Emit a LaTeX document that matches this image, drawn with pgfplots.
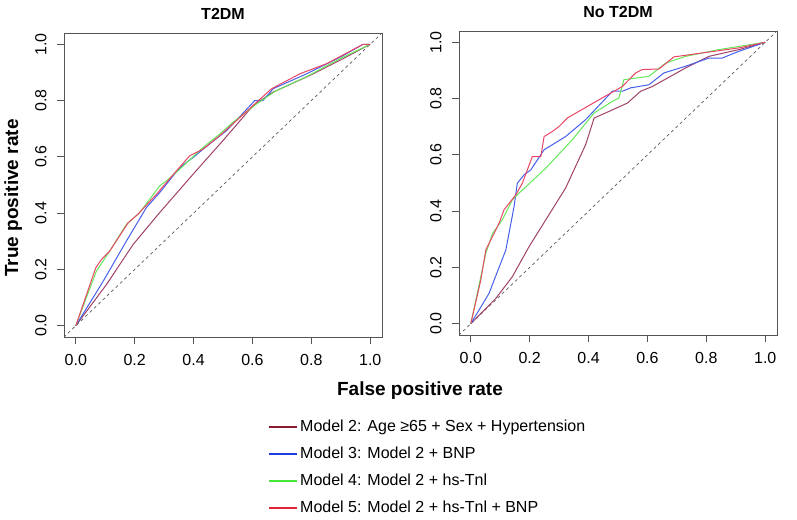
\documentclass[border=0pt]{standalone}
\usepackage{fontspec}
\setmainfont{Liberation Sans}
\usepackage{pgfplots}
\pgfplotsset{compat=1.18}

\definecolor{colA}{RGB}{160,65,105}
\definecolor{colB}{RGB}{70,95,235}
\definecolor{colC}{RGB}{100,232,90}
\definecolor{colD}{RGB}{232,70,100}
\definecolor{legA}{RGB}{140,25,50}
\definecolor{legB}{RGB}{30,60,225}
\definecolor{legC}{RGB}{70,230,60}
\definecolor{legD}{RGB}{225,35,55}
\definecolor{boxc}{RGB}{85,85,85}

\pgfplotsset{rocax/.style={
  scale only axis, width=318pt, height=304pt,
  xmin=-0.04,xmax=1.04,ymin=-0.04,ymax=1.04,
  xtick={0,0.2,0.4,0.6,0.8,1}, ytick={0,0.2,0.4,0.6,0.8,1},
  tick align=outside, major tick length=7pt,
  xtick pos=bottom, ytick pos=left,
  axis line style={draw=boxc, line width=0.9pt},
  every tick/.style={draw=boxc, line width=0.9pt},
  /pgf/number format/fixed,
  /pgf/number format/fixed zerofill,
  /pgf/number format/precision=1,
  /pgf/number format/assume math mode=true,
  tick label style={font=\fontsize{16}{18}\selectfont},
  xticklabel style={yshift=-7pt},
  yticklabel style={xshift=-7pt, rotate=90, anchor=south},
  title style={font=\bfseries\fontsize{16}{18}\selectfont, yshift=4pt},
  clip=true,
  every axis plot/.append style={line width=1pt},
}}

\begin{document}
\begin{tikzpicture}[x=1pt,y=1pt]
\useasboundingbox (0,0) rectangle (797,519);

% Left panel
\begin{axis}[rocax, at={(64pt,182pt)}, anchor=south west, title={T2DM},
  legend style={draw=none, fill=none, at={(0.6415,-0.266)}, anchor=north west,
    font=\fontsize{16}{18}\selectfont, row sep=10pt, inner sep=0pt,
    cells={anchor=west}},
  legend cell align=left,
  legend image code/.code={\draw[#1] (0pt,0pt) -- (28pt,0pt);},
  ]
\addplot[black!65, dashed, line width=0.7pt, forget plot] coordinates {(-0.1,-0.1) (1.1,1.1)};
\addplot[color=colA, forget plot] coordinates {(0,0)(0.104,0.146)(0.195,0.289)(0.285,0.402)(0.399,0.539)(0.500,0.658)(0.602,0.782)(0.670,0.830)(0.795,0.889)(0.908,0.949)(1,1)};
\addplot[color=colB, forget plot] coordinates {(0,0)(0.093,0.158)(0.172,0.301)(0.240,0.420)(0.285,0.473)(0.353,0.562)(0.399,0.598)(0.433,0.628)(0.512,0.693)(0.608,0.800)(0.636,0.800)(0.670,0.842)(0.784,0.895)(0.900,0.955)(0.976,1)(1,1)};
\addplot[color=colC, forget plot] coordinates {(0,0)(0.070,0.194)(0.115,0.265)(0.172,0.360)(0.217,0.402)(0.285,0.497)(0.308,0.515)(0.353,0.556)(0.433,0.634)(0.489,0.681)(0.534,0.723)(0.614,0.788)(0.682,0.836)(0.784,0.885)(0.900,0.950)(1,1)};
\addplot[color=colD, forget plot] coordinates {(0,0)(0.068,0.206)(0.087,0.235)(0.115,0.265)(0.178,0.366)(0.211,0.396)(0.274,0.467)(0.340,0.548)(0.387,0.604)(0.433,0.628)(0.489,0.675)(0.608,0.788)(0.665,0.842)(0.761,0.895)(0.852,0.931)(0.976,1)(1,1)};
\addlegendimage{color=legA, line width=2pt}
\addlegendentry{Model 2: Age ≥65 + Sex + Hypertension}
\addlegendimage{color=legB, line width=2pt}
\addlegendentry{Model 3: Model 2 + BNP}
\addlegendimage{color=legC, line width=2pt}
\addlegendentry{Model 4: Model 2 + hs-Tnl}
\addlegendimage{color=legD, line width=2pt}
\addlegendentry{Model 5: Model 2 + hs-Tnl + BNP}
\end{axis}

% Right panel
\begin{axis}[rocax, at={(459pt,184pt)}, anchor=south west, title={No T2DM}]
\addplot[black!65, dashed, line width=0.7pt] coordinates {(-0.1,-0.1) (1.1,1.1)};
\addplot[color=colA] coordinates {(0,0)(0.085,0.090)(0.141,0.167)(0.198,0.274)(0.322,0.482)(0.390,0.636)(0.419,0.731)(0.458,0.749)(0.532,0.784)(0.577,0.826)(0.617,0.843)(0.730,0.909)(0.809,0.950)(0.911,0.974)(1,1)};
\addplot[color=colB] coordinates {(0,0)(0.062,0.108)(0.119,0.262)(0.147,0.416)(0.158,0.499)(0.181,0.529)(0.204,0.547)(0.249,0.618)(0.322,0.665)(0.390,0.725)(0.481,0.826)(0.515,0.826)(0.543,0.838)(0.605,0.849)(0.656,0.891)(0.730,0.915)(0.809,0.944)(0.854,0.944)(0.911,0.968)(1,1)};
\addplot[color=colC] coordinates {(0,0)(0.051,0.250)(0.074,0.321)(0.107,0.369)(0.141,0.440)(0.164,0.464)(0.255,0.553)(0.345,0.654)(0.419,0.749)(0.481,0.790)(0.503,0.802)(0.520,0.867)(0.605,0.879)(0.662,0.926)(0.730,0.950)(0.843,0.974)(1,1)};
\addplot[color=colD] coordinates {(0,0)(0.034,0.155)(0.051,0.262)(0.068,0.298)(0.096,0.357)(0.113,0.405)(0.153,0.458)(0.175,0.499)(0.209,0.594)(0.238,0.594)(0.249,0.665)(0.277,0.683)(0.300,0.701)(0.328,0.731)(0.436,0.796)(0.515,0.843)(0.560,0.891)(0.582,0.903)(0.639,0.905)(0.690,0.948)(0.786,0.962)(0.911,0.980)(1,1)};
\end{axis}

\node[font=\bfseries\fontsize{19}{22}\selectfont, anchor=base] at (420,123) {False positive rate};
\node[font=\bfseries\fontsize{19}{22}\selectfont, rotate=90, anchor=base] at (18,321) {True positive rate};
\end{tikzpicture}
\end{document}
